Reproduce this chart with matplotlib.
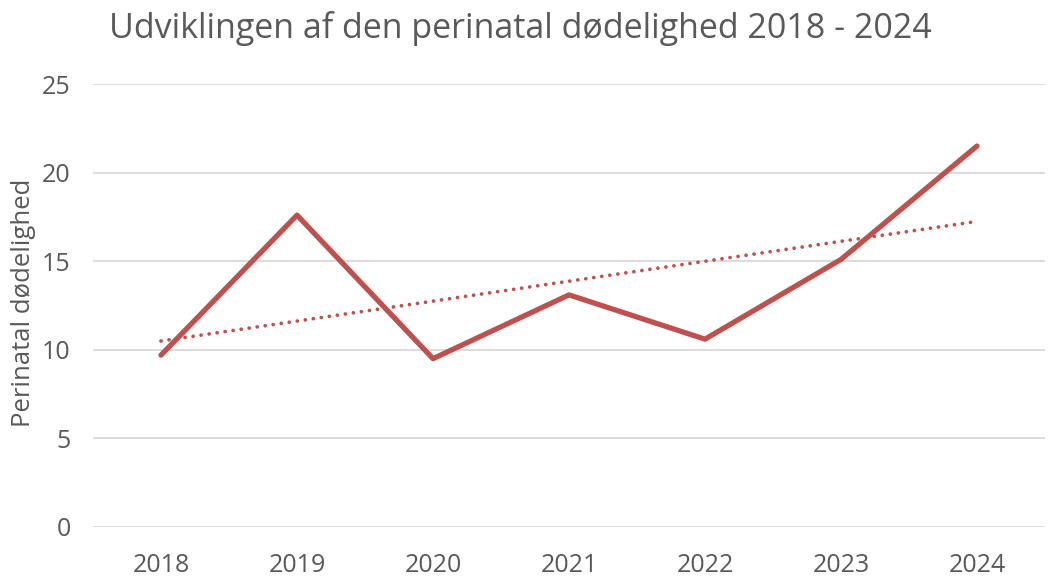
import numpy as np
import matplotlib
matplotlib.use("Agg")
import matplotlib.pyplot as plt

plt.rcParams['font.family'] = ['Open Sans', 'DejaVu Sans']

# data
years = ["2018", "2019", "2020", "2021", "2022", "2023", "2024"]
deaths = [9.7, 17.6, 9.5, 13.1, 10.6, 15.1, 21.5]

text_color = "#595959"
line_color = "#C0504D"

fig = plt.figure(figsize=(10.61, 5.87), dpi=100)
ax = fig.add_axes([93 / 1061, 1 - 527 / 587, (1045 - 93) / 1061, (527 - 84) / 587])

x = np.arange(len(years))
ax.plot(x, deaths, color=line_color, linewidth=3.8, solid_joinstyle="round",
        solid_capstyle="round", zorder=3)

# linear trendline
k, m = np.polyfit(x, deaths, 1)
ax.plot(x, k * x + m, color=line_color, linewidth=2.7, linestyle=(0, (0.01, 2.15)),
        dash_capstyle="round", zorder=2)

ax.set_xlim(-0.5, len(years) - 0.5)
ax.set_ylim(0, 25)
ax.set_yticks(range(0, 26, 5))
ax.set_xticks(x)
ax.set_xticklabels(years)
ax.grid(axis="y", color="#D9D9D9", linewidth=1.3)
ax.set_axisbelow(True)
for s in ax.spines.values():
    s.set_visible(False)
ax.tick_params(length=0, labelsize=18, labelcolor=text_color)
ax.tick_params(axis="x", pad=19)
ax.tick_params(axis="y", pad=16)

ax.set_ylabel("Perinatal dødelighed", fontsize=18.5, color=text_color, va="center")
ax.yaxis.set_label_coords(-0.073, 0.505)
fig.text(0.49, 1 - 28 / 587, "Udviklingen af den perinatal dødelighed 2018 - 2024",
         ha="center", va="center", fontsize=24.5, color=text_color)

fig.savefig("out.png", dpi=100)
